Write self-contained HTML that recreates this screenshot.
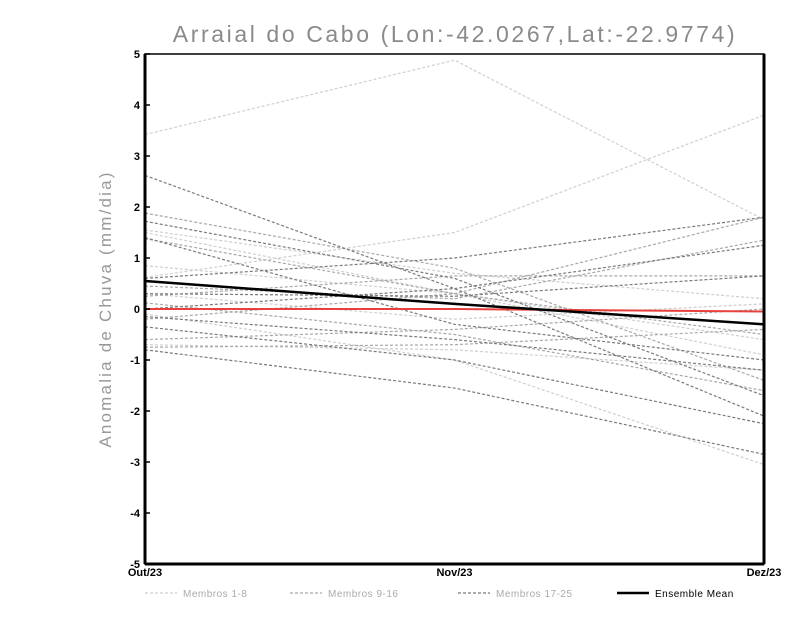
<!DOCTYPE html>
<html><head><meta charset="utf-8"><style>
body{margin:0;background:#fff;}
svg text{font-family:"Liberation Sans",sans-serif;}
</style></head><body>
<svg id="c" width="800" height="618" xmlns="http://www.w3.org/2000/svg">
<text x="455" y="42" text-anchor="middle" font-size="23" fill="#8a8a8a" letter-spacing="2.6">Arraial do Cabo (Lon:-42.0267,Lat:-22.9774)</text>
<text transform="translate(111,309) rotate(-90)" text-anchor="middle" font-size="17" fill="#999" letter-spacing="2.2">Anomalia de Chuva (mm/dia)</text>
<g id="plot"></g>
</svg>
<script>
const categories=["Out/23","Nov/23","Dez/23"];
const yTicks=[-5,-4,-3,-2,-1,0,1,2,3,4,5];
const light=[[3.42,4.88,1.75],[0.62,1.5,3.8],[1.55,0.7,0.2],[0.85,0.3,-0.9],[-0.1,-1.0,-3.05],[1.5,0.3,-0.6],[0.3,-0.2,0.1],[-0.7,-0.8,-1.2]];
const medium=[[1.88,0.8,-1.4],[0.45,0.2,1.35],[-0.2,0.3,1.8],[1.38,0.3,-0.5],[0.25,0.65,0.65],[-0.6,-0.4,0.0],[0.12,-0.5,-1.6],[-0.75,-0.7,-0.4]];
const dark=[[2.62,0.4,-2.1],[1.72,0.6,-1.7],[1.4,-0.3,-1.0],[0.6,1.0,1.8],[0.0,0.4,1.25],[-0.35,-1.0,-2.25],[-0.8,-1.55,-2.85],[-0.15,-0.6,-1.2],[0.3,0.25,0.65]];
const ensembleMean=[0.55,0.1,-0.3];
const zeroRef=[0,0,-0.05];
const legendLabels=["Membros 1-8","Membros 9-16","Membros 17-25","Ensemble Mean"];

const X0=145,X1=764,Y0=54,Y1=564,NS="http://www.w3.org/2000/svg";
const xs=i=>X0+(X1-X0)*i/(categories.length-1);
const ys=v=>Y0+(5-v)*(Y1-Y0)/10;
const g=document.getElementById('plot');
function mk(t,a){const e=document.createElementNS(NS,t);for(const k in a)e.setAttribute(k,a[k]);g.appendChild(e);return e;}
function line(vals,stroke,w,dash,name){
  const p=mk('polyline',{points:vals.map((v,i)=>xs(i)+','+ys(v)).join(' '),fill:'none',stroke:stroke,'stroke-width':w,'stroke-dasharray':dash});
  
  
}
mk('rect',{x:X0,y:Y0,width:X1-X0,height:Y1-Y0,fill:'none',stroke:'#000','stroke-width':1.5});
light.forEach((s,i)=>line(s,'#cfcfcf',1.2,'3,2','member-'+(i+1)));
medium.forEach((s,i)=>line(s,'#a8a8a8',1.2,'3,2','member-'+(i+9)));
dark.forEach((s,i)=>line(s,'#7a7a7a',1.2,'3,2','member-'+(i+17)));
line(zeroRef,'#e8413c',2,'none','zero-line');
line(ensembleMean,'#000',2.5,'none','ensemble-mean-line');
const ax=mk('line',{x1:X0,y1:Y0,x2:X0,y2:Y1,stroke:'#000','stroke-width':3});

const ax2=mk('line',{x1:X1,y1:Y0,x2:X1,y2:Y1,stroke:'#000','stroke-width':3});

const ax3=mk('line',{x1:X0,y1:Y1,x2:X1,y2:Y1,stroke:'#000','stroke-width':3});

yTicks.forEach(v=>{
  mk('line',{x1:X0,y1:ys(v),x2:X0+5,y2:ys(v),stroke:'#000','stroke-width':1.5});
  const t=mk('text',{x:X0-5,y:ys(v)+4,'text-anchor':'end','font-size':11,'font-weight':'bold'});
  t.textContent=v;
  
  
});
categories.forEach((c,i)=>{
  const t=mk('text',{x:xs(i),y:Y1+12,'text-anchor':'middle','font-size':11,'font-weight':'bold'});
  t.textContent=c;
  
  
});
const lc=[['#cfcfcf',1.2,'3,2'],['#a8a8a8',1.2,'3,2'],['#7a7a7a',1.2,'3,2'],['#000',2.5,'none']];
const lx=[145,290,458,617];
legendLabels.forEach((l,i)=>{
  const s=mk('line',{x1:lx[i],y1:593,x2:lx[i]+32,y2:593,stroke:lc[i][0],'stroke-width':lc[i][1],'stroke-dasharray':lc[i][2]});
  
  
  const t=mk('text',{x:lx[i]+38,y:597,'font-size':10,fill:i==3?'#000':'#aaa','letter-spacing':'0.5'});
  t.textContent=l;
  
  
});
</script>
</body></html>
